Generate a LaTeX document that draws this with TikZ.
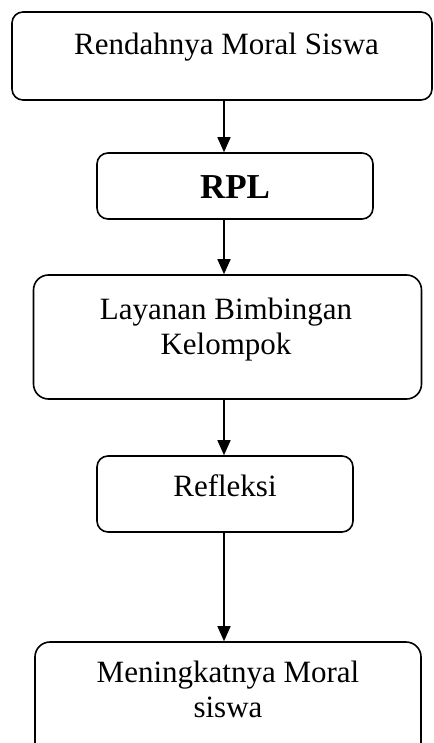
\documentclass[tikz,border=0pt]{standalone}
\usepackage{fontspec}
\setmainfont{Liberation Serif}
\usetikzlibrary{arrows.meta,positioning}
\tikzset{
  stepbox/.style={draw, line width=1.6pt, rounded corners=11pt, inner sep=0pt},
  boxtext/.style={inner sep=0pt, align=center, anchor=base, font=\fontsize{31}{35}\selectfont},
  flow/.style={line width=1.6pt, -{Triangle[width=13pt,length=15pt]}},
}
\begin{document}
\begin{tikzpicture}[x=1pt,y=-1pt]
\clip (0,0) rectangle (433,743);
\coordinate (spine) at (224,0);
% boxes
\node[stepbox, minimum width=420pt, minimum height=88pt] (masalah) at (222,56) {};
\node[stepbox, minimum width=276pt, minimum height=66pt] (rpl) at (235,186) {};
\node[stepbox, rounded corners=15pt, minimum width=388pt, minimum height=124pt] (layanan) at (227.5,337) {};
\node[stepbox, minimum width=256pt, minimum height=76pt] (refleksi) at (225,494) {};
\node[stepbox, rounded corners=15pt, minimum width=386pt, minimum height=120pt] (hasil) at (228,702) {};
% texts (base = last line)
\node[boxtext] (masalahtxt) at (226.5,55) {Rendahnya Moral Siswa};
\node[boxtext, font=\fontsize{35}{40}\selectfont\bfseries] (rpltxt) at (235,199) {RPL};
\node[boxtext] (layanantxt) at (226,354) {Layanan Bimbingan\\Kelompok};
\node[boxtext] (refleksitxt) at (225,496) {Refleksi};
\node[boxtext] (hasiltxt) at (228,717) {Meningkatnya Moral\\siswa};
% arrows
\draw[flow] (masalah.south -| spine) -- (rpl.north -| spine);
\draw[flow] (rpl.south -| spine) -- (layanan.north -| spine);
\draw[flow] (layanan.south -| spine) -- (refleksi.north -| spine);
\draw[flow] (refleksi.south -| spine) -- (hasil.north -| spine);
\end{tikzpicture}
\end{document}
